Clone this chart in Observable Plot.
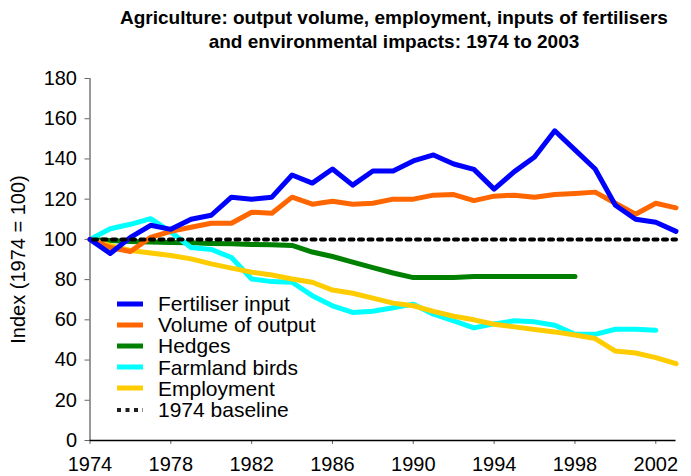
<!DOCTYPE html>
<html>
<head>
<meta charset="utf-8">
<script src="https://cdn.jsdelivr.net/npm/d3@7"></script>
<script src="https://cdn.jsdelivr.net/npm/@observablehq/plot@0.6"></script>
<style>
  body { margin: 0; background: #fff; font-family: "Liberation Sans", Arial, sans-serif; }
  #wrap { position: relative; width: 691px; height: 476px; overflow: hidden; }
  #title { box-sizing: border-box; width: 691px; height: 56px; padding: 6px 0 0 97px; text-align: center;
           font-weight: bold; font-size: 19px; line-height: 24px; color: #000; }
  #legend { position: absolute; left: 116px; top: 293px; font-size: 21px; line-height: 21.2px; color: #000; }
  .row { display: flex; align-items: center; height: 21.2px; white-space: nowrap; }
  .row svg { margin-right: 14px; }
</style>
</head>
<body>
<div id="wrap">
  <div id="title">Agriculture: output volume, employment, inputs of fertilisers<br>and environmental impacts: 1974 to 2003</div>
  <div id="chart"></div>
  <div id="legend"></div>
</div>
<script>
const years = d3.range(1974, 2004);
const fertiliser = [100, 93, 101, 107, 105, 110, 112, 121, 120, 121, 132, 128, 135, 127, 134, 134, 139, 142, 137.5, 134.8, 125, 133.7, 141, 154, 144.5, 135, 117, 110, 108.5, 104];
const output = [100, 96, 94, 101, 104, 106, 108, 108, 113.5, 113, 121, 117.5, 119, 117.5, 118, 120, 120, 122, 122.3, 119.3, 121.5, 122, 121, 122.3, 122.8, 123.5, 118, 112.5, 118, 115.7];
const hedges = [100, 99.5, 99, 98.7, 98.5, 98.3, 98, 97.8, 97.5, 97.3, 97, 93.7, 91.5, 88.7, 86, 83.3, 81, 81, 81, 81.5, 81.5, 81.5, 81.5, 81.5, 81.5, null, null, null, null, null];
const birds = [100, 105.3, 107.5, 110.3, 103.7, 96, 95, 91, 80.3, 79, 78.7, 72, 67, 63.7, 64.3, 66, 67.8, 62.8, 59.5, 56, 58, 59.5, 59, 57.3, 52.8, 52.8, 55.3, 55.3, 54.8, null];
const employment = [100, 97, 94.5, 93.2, 92, 90.3, 87.8, 85.7, 83.7, 82.3, 80.3, 78.7, 74.8, 73.2, 70.8, 68.3, 67, 64.2, 61.8, 60, 57.8, 56.5, 55.2, 54, 52.5, 50.7, 44.5, 43.5, 41.2, 38.2];
const baselineValue = 100;

const seriesNames = ["Fertiliser input", "Volume of output", "Hedges", "Farmland birds", "Employment"];
const seriesValues = [fertiliser, output, hedges, birds, employment];
const seriesColors = ["#0000FF", "#FF6600", "#008000", "#00FFFF", "#FFCC00"];
const baselineName = "1974 baseline";
const xTicks = [1974, 1978, 1982, 1986, 1990, 1994, 1998, 2002];
const yTicks = [0, 20, 40, 60, 80, 100, 120, 140, 160, 180];
const yLabel = "Index (1974 = 100)";

const rows = [];
seriesNames.forEach((name, i) => {
  years.forEach((yr, j) => {
    const v = seriesValues[i][j];
    if (v != null) rows.push({ series: name, year: yr, value: v });
  });
});
const baseline = [years[0], years[years.length - 1]].map(yr => ({ year: yr, value: baselineValue }));

const chart = Plot.plot({
  width: 691,
  height: 420,
  marginTop: 22,
  marginBottom: 36,
  marginLeft: 89.5,
  marginRight: 15.5,
  style: { fontFamily: '"Liberation Sans", Arial, sans-serif', background: "#fff", color: "#000" },
  x: { domain: [years[0], years[years.length - 1]] },
  y: { domain: [0, 180] },
  color: { domain: seriesNames, range: seriesColors },
  marks: [
    Plot.axisY({ ticks: yTicks, tickSize: 5, tickPadding: 8, fontSize: 20, stroke: "#666",
                 label: yLabel, labelAnchor: "center", labelOffset: 79, labelArrow: "none" }),
    Plot.axisX({ ticks: xTicks, tickFormat: d => String(d), tickSize: 4, tickPadding: 12, fontSize: 20, stroke: "#666", label: null }),
    Plot.ruleX([years[0]], { y1: 0, y2: 180, stroke: "#555", strokeWidth: 1.2 }),
    Plot.ruleY([0], { stroke: "#000", strokeWidth: 1.5 }),
    Plot.line(rows.filter(d => d.series === "Hedges" || d.series === "Farmland birds" || d.series === "Employment"),
      { x: "year", y: "value", z: "series", stroke: "series", strokeWidth: 5, strokeLinejoin: "round", strokeLinecap: "round" }),
    Plot.line(rows.filter(d => d.series === "Volume of output"),
      { x: "year", y: "value", z: "series", stroke: "series", strokeWidth: 5, strokeLinejoin: "round", strokeLinecap: "round" }),
    Plot.line(rows.filter(d => d.series === "Fertiliser input"),
      { x: "year", y: "value", z: "series", stroke: "series", strokeWidth: 5, strokeLinejoin: "round", strokeLinecap: "round" }),
    Plot.line(baseline, { x: "year", y: "value", stroke: "#000", strokeWidth: 4, strokeDasharray: "4 5.5", strokeDashoffset: -3 })
  ]
});
chart.style.display = "block";
document.getElementById("chart").appendChild(chart);

const legend = document.getElementById("legend");
const legendItems = seriesNames.map((n, i) => ({ name: n, color: seriesColors[i], dash: null }))
  .concat([{ name: baselineName, color: "#231f20", dash: "4 4.5" }]);
legendItems.forEach(item => {
  const row = document.createElement("div");
  row.className = "row";
  const sw = d3.create("svg").attr("width", 28).attr("height", 10);
  sw.append("line").attr("x1", 1).attr("x2", 27).attr("y1", 5).attr("y2", 5)
    .attr("stroke", item.color).attr("stroke-width", item.dash ? 4 : 5)
    .attr("stroke-dasharray", item.dash);
  row.appendChild(sw.node());
  const t = document.createElement("span");
  t.textContent = item.name;
  row.appendChild(t);
  legend.appendChild(row);
});
</script>
</body>
</html>
